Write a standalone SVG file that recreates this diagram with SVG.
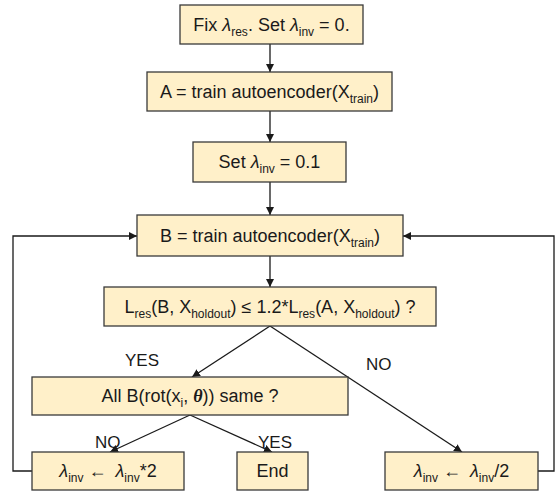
<svg xmlns="http://www.w3.org/2000/svg" width="556" height="494" viewBox="0 0 556 494">
<style>
.box{fill:#FFF0C9;stroke:#3a3a3a;stroke-width:1.3}
.t{font-family:"Liberation Sans",Arial,sans-serif;font-size:18px;fill:#1a1a1a;text-anchor:middle}
.lbl{font-family:"Liberation Sans",Arial,sans-serif;font-size:17px;fill:#1a1a1a}
.s{font-size:12px}
.g{font-style:italic}
.th{font-family:"Liberation Serif",serif;font-style:italic;font-weight:bold}
.c{fill:none;stroke:#1a1a1a;stroke-width:1.3}
</style>
<defs>
<marker id="ah" viewBox="0 0 10 10" refX="10" refY="5" markerWidth="8" markerHeight="8" markerUnits="userSpaceOnUse" orient="auto">
<path d="M0,0 L10,5 L0,10 z" fill="#1a1a1a"/>
</marker>
</defs>
<g id="connectors">
<line class="c" x1="270" y1="44" x2="270" y2="72" marker-end="url(#ah)"/>
<line class="c" x1="270" y1="111" x2="270" y2="142" marker-end="url(#ah)"/>
<line class="c" x1="270" y1="182" x2="270" y2="215" marker-end="url(#ah)"/>
<line class="c" x1="270" y1="256" x2="270" y2="287" marker-end="url(#ah)"/>
<line class="c" x1="270" y1="326" x2="192" y2="377" marker-end="url(#ah)"/>
<line class="c" x1="270" y1="326" x2="462" y2="452" marker-end="url(#ah)"/>
<line class="c" x1="190" y1="415" x2="110" y2="452" marker-end="url(#ah)"/>
<line class="c" x1="190" y1="415" x2="272" y2="452" marker-end="url(#ah)"/>
<polyline class="c" points="32,471 13,471 13,236 137,236" marker-end="url(#ah)"/>
<polyline class="c" points="538,471 554,471 554,236 403,236" marker-end="url(#ah)"/>
<text class="lbl" x="125" y="366">YES</text>
<text class="lbl" x="366" y="370">NO</text>
<text class="lbl" x="95" y="448">NO</text>
<text class="lbl" x="258" y="448">YES</text>
</g>
<g id="n1">
<rect class="box" x="180" y="5" width="183" height="39"/>
<text class="t" x="271.5" y="31">Fix <tspan class="g">λ</tspan><tspan class="s" dy="5">res</tspan><tspan dy="-5">. Set </tspan><tspan class="g">λ</tspan><tspan class="s" dy="5">inv</tspan><tspan dy="-5"> = 0.</tspan></text>
</g>
<g id="n2">
<rect class="box" x="147" y="72" width="245" height="39"/>
<text class="t" x="269.5" y="97.5">A = train autoencoder(X<tspan class="s" dy="5">train</tspan><tspan dy="-5">)</tspan></text>
</g>
<g id="n3">
<rect class="box" x="193" y="142" width="153" height="40"/>
<text class="t" x="269.5" y="168">Set <tspan class="g">λ</tspan><tspan class="s" dy="5">inv</tspan><tspan dy="-5"> = 0.1</tspan></text>
</g>
<g id="n4">
<rect class="box" x="137" y="215" width="266" height="41"/>
<text class="t" x="270" y="241.5">B = train autoencoder(X<tspan class="s" dy="5">train</tspan><tspan dy="-5">)</tspan></text>
</g>
<g id="n5">
<rect class="box" x="104" y="287" width="332" height="39"/>
<text class="t" x="270" y="312.5">L<tspan class="s" dy="5">res</tspan><tspan dy="-5">(B, X</tspan><tspan class="s" dy="5">holdout</tspan><tspan dy="-5">) ≤ 1.2*L</tspan><tspan class="s" dy="5">res</tspan><tspan dy="-5">(A, X</tspan><tspan class="s" dy="5">holdout</tspan><tspan dy="-5">) ?</tspan></text>
</g>
<g id="n6">
<rect class="box" x="32" y="377" width="316" height="38"/>
<text class="t" x="190" y="402">All B(rot(x<tspan class="s" dy="5">i</tspan><tspan dy="-5">, </tspan><tspan class="th">θ</tspan><tspan>)) same ?</tspan></text>
</g>
<g id="n7">
<rect class="box" x="32" y="452" width="152" height="38"/>
<text class="t" x="108" y="477"><tspan class="g">λ</tspan><tspan class="s" dy="5">inv</tspan><tspan dy="-5"> ←  </tspan><tspan class="g" dx="4">λ</tspan><tspan class="s" dy="5">inv</tspan><tspan dy="-5">*2</tspan></text>
</g>
<g id="n8">
<rect class="box" x="237" y="452" width="71" height="38"/>
<text class="t" x="272.5" y="477">End</text>
</g>
<g id="n9">
<rect class="box" x="385" y="452" width="153" height="38"/>
<text class="t" x="461.5" y="477"><tspan class="g">λ</tspan><tspan class="s" dy="5">inv</tspan><tspan dy="-5"> ←  </tspan><tspan class="g" dx="4">λ</tspan><tspan class="s" dy="5">inv</tspan><tspan dy="-5">/2</tspan></text>
</g>
</svg>
